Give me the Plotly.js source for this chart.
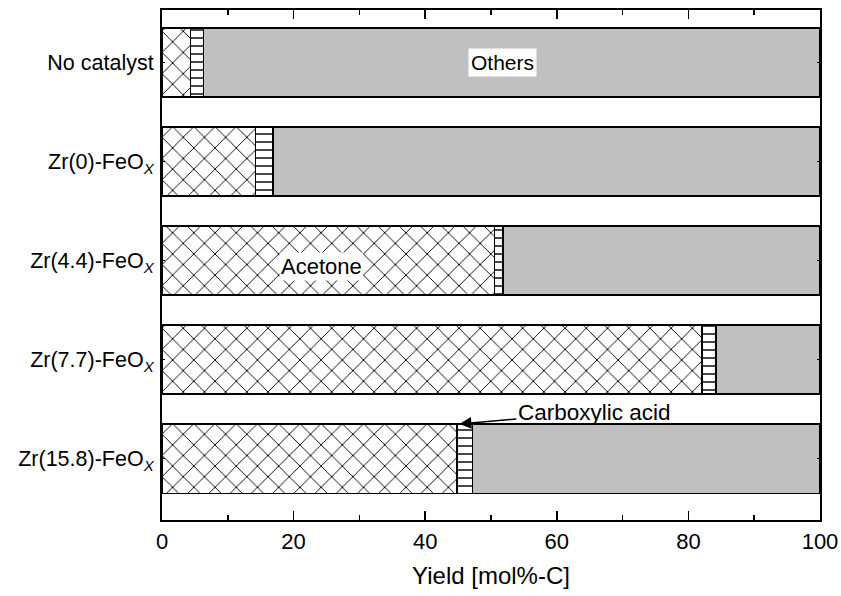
<!DOCTYPE html>
<html>
<head>
<meta charset="utf-8">
<script src="https://cdn.plot.ly/plotly-3.0.1.min.js"></script>
<style>html,body{margin:0;padding:0;background:#fff;}#chart{width:841px;height:596px;}</style>
</head>
<body>
<div id="chart"></div>
<script>
const categories = ["No catalyst", "Zr(0)-FeO<sub><i>X</i></sub>", "Zr(4.4)-FeO<sub><i>X</i></sub>", "Zr(7.7)-FeO<sub><i>X</i></sub>", "Zr(15.8)-FeO<sub><i>X</i></sub>"];
const acetone = [4.3, 14.2, 50.5, 82.1, 44.8];
const carboxylicAcid = [2.0, 2.7, 1.3, 2.1, 2.4];
const others = [93.7, 83.1, 48.2, 15.8, 52.8];
const xTickVals = [0, 20, 40, 60, 80, 100];

const pos = categories.map((c, i) => i);
const FONT = "'Liberation Sans', Arial, sans-serif";
const line = {color: "#000", width: 1.5};

const traces = [
  {type: "bar", orientation: "h", name: "Acetone", y: pos, x: acetone, width: 0.7,
   marker: {color: "#fff", line: line, pattern: {shape: "x", fgcolor: "#000", bgcolor: "#fff", size: 15, solidity: 0.12}}},
  {type: "bar", orientation: "h", name: "Carboxylic acid", y: pos, x: carboxylicAcid, width: 0.7,
   marker: {color: "#fff", line: line, pattern: {shape: "-", fgcolor: "#000", bgcolor: "#fff", size: 8, solidity: 0.18}}},
  {type: "bar", orientation: "h", name: "Others", y: pos, x: others, width: 0.7,
   marker: {color: "#c0c0c0", line: line}}
];

const layout = {
  width: 841, height: 596,
  margin: {l: 162, r: 21, t: 10, b: 76},
  barmode: "stack",
  showlegend: false,
  paper_bgcolor: "#fff", plot_bgcolor: "#fff",
  font: {family: FONT, size: 22, color: "#000"},
  xaxis: {
    range: [0, 100], tickvals: xTickVals, ticks: "inside", ticklen: 9, tickwidth: 1.5, tickcolor: "#000",
    minor: {dtick: 10, ticks: "inside", ticklen: 5, tickwidth: 1.5, tickcolor: "#000"},
    showline: true, linecolor: "#000", linewidth: 2, mirror: "ticks", showgrid: false, zeroline: false,
    tickfont: {family: FONT, size: 22}, ticklabelstandoff: 1,
    title: {text: "Yield [mol%-C]", font: {family: FONT, size: 24}, standoff: 14}
  },
  yaxis: {
    range: [4.62, -0.53], tickvals: pos, ticktext: categories, ticks: "inside", ticklen: 3, tickwidth: 1.5, tickcolor: "#000",
    showline: true, linecolor: "#000", linewidth: 2, mirror: "ticks", showgrid: false, zeroline: false,
    tickfont: {family: FONT, size: 21.5}, ticklabelstandoff: 2
  },
  annotations: [
    {x: 51.7, y: 0, xref: "x", yref: "y", text: "Others", showarrow: false, bgcolor: "#fff",
     font: {family: FONT, size: 21}, borderpad: 2},
    {x: 24.2, y: 2.06, xref: "x", yref: "y", text: "Acetone", showarrow: false, bgcolor: "#fff",
     font: {family: FONT, size: 22}, borderpad: 1},
    {x: 45.2, y: 3.65, xref: "x", yref: "y", ax: 65.7, ay: 3.53, axref: "x", ayref: "y",
     text: "Carboxylic acid", showarrow: true, arrowhead: 2, arrowsize: 1.6, arrowwidth: 1.5, arrowcolor: "#000",
     standoff: 0, font: {family: FONT, size: 22.5}}
  ]
};

Plotly.newPlot("chart", traces, layout, {displayModeBar: false, staticPlot: true});
</script>
</body>
</html>
